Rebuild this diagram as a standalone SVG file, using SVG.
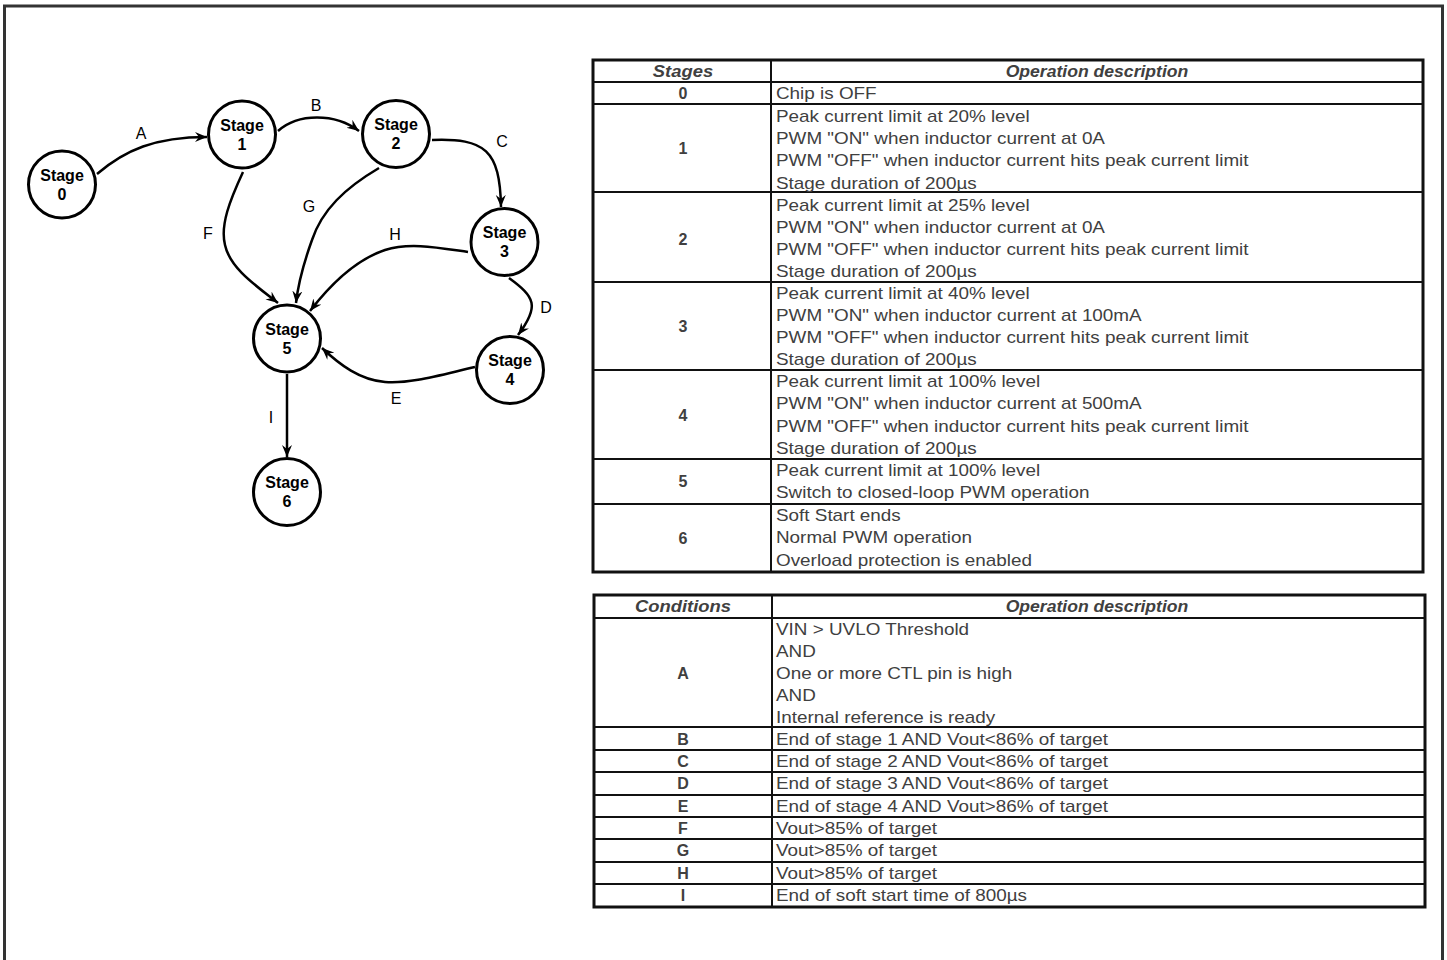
<svg xmlns="http://www.w3.org/2000/svg" width="1447" height="960" viewBox="0 0 1447 960">
<defs>
<marker id="arr" markerUnits="userSpaceOnUse" markerWidth="13" markerHeight="11" refX="12" refY="5" orient="auto">
<path d="M0,0 L12,5 L0,10 L4,5 Z" fill="#000"/>
</marker>
<style>
.node circle{fill:#fff;stroke:#000;stroke-width:3}
.node text{font-family:"Liberation Sans",Arial,sans-serif;font-weight:bold;font-size:16px;text-anchor:middle;fill:#000}
.edge{fill:none;stroke:#000;stroke-width:2.5;marker-end:url(#arr)}
.lbl{font-family:"Liberation Sans",Arial,sans-serif;font-size:16px;text-anchor:middle;fill:#000}
.tout{fill:none;stroke:#111;stroke-width:3}
.tin{stroke:#111;stroke-width:2}
.td{font-family:"Liberation Sans",Arial,sans-serif;font-size:16px;fill:#404040}
.tc{font-family:"Liberation Sans",Arial,sans-serif;font-size:16px;font-weight:bold;fill:#404040;text-anchor:middle}
.th{font-family:"Liberation Sans",Arial,sans-serif;font-size:16px;font-weight:bold;font-style:italic;fill:#404040;text-anchor:middle}
</style>
</defs>
<rect x="0" y="0" width="1447" height="960" fill="#fff"/>
<path d="M4.5,975 L4.5,6 L1442.5,6 L1442.5,975" fill="none" stroke="#333" stroke-width="3"/>

<g id="connectors">
<path class="edge" d="M97,174 C125,150 155,137 207,137"/>
<path class="edge" d="M278,131 C298,113 335,113 359,131"/>
<path class="edge" d="M432,140 C485,138 500,150 501,207"/>
<path class="edge" d="M509,278 C535,297 540,306 518,335"/>
<path class="edge" d="M475,367 C440,375 410,384 385,382 C360,380 340,365 322,348"/>
<path class="edge" d="M243,172 C230,200 220,225 225,245 C230,268 255,285 278,303"/>
<path class="edge" d="M379,168 C345,188 322,210 312,240 C303,265 298,285 296,303"/>
<path class="edge" d="M468,252 C440,248 410,242 385,250 C355,260 330,285 310,311"/>
<path class="edge" d="M287,374 L287,457"/>
<text class="lbl" x="141" y="139">A</text>
<text class="lbl" x="316" y="111">B</text>
<text class="lbl" x="502" y="147">C</text>
<text class="lbl" x="546" y="313">D</text>
<text class="lbl" x="396" y="404">E</text>
<text class="lbl" x="208" y="239">F</text>
<text class="lbl" x="309" y="212">G</text>
<text class="lbl" x="395" y="240">H</text>
<text class="lbl" x="271" y="423">I</text>
</g>

<g id="stage0" class="node"><circle cx="62" cy="184.5" r="33.5"/><text x="62" y="180.5">Stage</text><text x="62" y="199.5">0</text></g>
<g id="stage1" class="node"><circle cx="242" cy="134.5" r="33.5"/><text x="242" y="130.5">Stage</text><text x="242" y="149.5">1</text></g>
<g id="stage2" class="node"><circle cx="396" cy="134" r="33.5"/><text x="396" y="130">Stage</text><text x="396" y="149">2</text></g>
<g id="stage3" class="node"><circle cx="504.5" cy="242" r="33.5"/><text x="504.5" y="238">Stage</text><text x="504.5" y="257">3</text></g>
<g id="stage4" class="node"><circle cx="510" cy="370" r="33.5"/><text x="510" y="366">Stage</text><text x="510" y="385">4</text></g>
<g id="stage5" class="node"><circle cx="287" cy="338.5" r="33.5"/><text x="287" y="334.5">Stage</text><text x="287" y="353.5">5</text></g>
<g id="stage6" class="node"><circle cx="287" cy="492" r="33.5"/><text x="287" y="488">Stage</text><text x="287" y="507">6</text></g>

<g id="stages-table">
<rect class="tout" x="593" y="60" width="830" height="512"/>
<line class="tin" x1="771" y1="60" x2="771" y2="572"/>
<line class="tin" x1="593" y1="82" x2="1423" y2="82"/>
<line class="tin" x1="593" y1="104" x2="1423" y2="104"/>
<line class="tin" x1="593" y1="192" x2="1423" y2="192"/>
<line class="tin" x1="593" y1="282" x2="1423" y2="282"/>
<line class="tin" x1="593" y1="370" x2="1423" y2="370"/>
<line class="tin" x1="593" y1="459" x2="1423" y2="459"/>
<line class="tin" x1="593" y1="504" x2="1423" y2="504"/>
<g transform="translate(683 0) scale(1.15 1)"><text class="th" x="0" y="77">Stages</text></g>
<g transform="translate(1097 0) scale(1.1 1)"><text class="th" x="0" y="77">Operation description</text></g>
<text class="tc" x="683" y="99">0</text>
<text class="tc" x="683" y="154">1</text>
<text class="tc" x="683" y="245">2</text>
<text class="tc" x="683" y="332">3</text>
<text class="tc" x="683" y="421">4</text>
<text class="tc" x="683" y="487">5</text>
<text class="tc" x="683" y="544">6</text>
<g transform="translate(776 0) scale(1.18 1)">
<text class="td" x="0" y="99">Chip is OFF</text>
<text class="td" x="0" y="122">Peak current limit at 20% level</text>
<text class="td" x="0" y="144">PWM "ON" when inductor current at 0A</text>
<text class="td" x="0" y="166">PWM "OFF" when inductor current hits peak current limit</text>
<text class="td" x="0" y="189">Stage duration of 200µs</text>
<text class="td" x="0" y="211">Peak current limit at 25% level</text>
<text class="td" x="0" y="233">PWM "ON" when inductor current at 0A</text>
<text class="td" x="0" y="255">PWM "OFF" when inductor current hits peak current limit</text>
<text class="td" x="0" y="277">Stage duration of 200µs</text>
<text class="td" x="0" y="299">Peak current limit at 40% level</text>
<text class="td" x="0" y="321">PWM "ON" when inductor current at 100mA</text>
<text class="td" x="0" y="343">PWM "OFF" when inductor current hits peak current limit</text>
<text class="td" x="0" y="365">Stage duration of 200µs</text>
<text class="td" x="0" y="387">Peak current limit at 100% level</text>
<text class="td" x="0" y="409">PWM "ON" when inductor current at 500mA</text>
<text class="td" x="0" y="432">PWM "OFF" when inductor current hits peak current limit</text>
<text class="td" x="0" y="454">Stage duration of 200µs</text>
<text class="td" x="0" y="476">Peak current limit at 100% level</text>
<text class="td" x="0" y="498">Switch to closed-loop PWM operation</text>
<text class="td" x="0" y="521">Soft Start ends</text>
<text class="td" x="0" y="543">Normal PWM operation</text>
<text class="td" x="0" y="566">Overload protection is enabled</text>
</g>
</g>

<g id="conditions-table">
<rect class="tout" x="594" y="595" width="831" height="312"/>
<line class="tin" x1="772" y1="595" x2="772" y2="907"/>
<line class="tin" x1="594" y1="618" x2="1425" y2="618"/>
<line class="tin" x1="594" y1="727" x2="1425" y2="727"/>
<line class="tin" x1="594" y1="750" x2="1425" y2="750"/>
<line class="tin" x1="594" y1="772" x2="1425" y2="772"/>
<line class="tin" x1="594" y1="795" x2="1425" y2="795"/>
<line class="tin" x1="594" y1="817" x2="1425" y2="817"/>
<line class="tin" x1="594" y1="839" x2="1425" y2="839"/>
<line class="tin" x1="594" y1="862" x2="1425" y2="862"/>
<line class="tin" x1="594" y1="884" x2="1425" y2="884"/>
<g transform="translate(683 0) scale(1.15 1)"><text class="th" x="0" y="612">Conditions</text></g>
<g transform="translate(1097 0) scale(1.1 1)"><text class="th" x="0" y="612">Operation description</text></g>
<text class="tc" x="683" y="679">A</text>
<text class="tc" x="683" y="745">B</text>
<text class="tc" x="683" y="767">C</text>
<text class="tc" x="683" y="789">D</text>
<text class="tc" x="683" y="812">E</text>
<text class="tc" x="683" y="834">F</text>
<text class="tc" x="683" y="856">G</text>
<text class="tc" x="683" y="879">H</text>
<text class="tc" x="683" y="901">I</text>
<g transform="translate(776 0) scale(1.18 1)">
<text class="td" x="0" y="635">VIN &gt; UVLO Threshold</text>
<text class="td" x="0" y="657">AND</text>
<text class="td" x="0" y="679">One or more CTL pin is high</text>
<text class="td" x="0" y="701">AND</text>
<text class="td" x="0" y="723">Internal reference is ready</text>
<text class="td" x="0" y="745">End of stage 1 AND Vout&lt;86% of target</text>
<text class="td" x="0" y="767">End of stage 2 AND Vout&lt;86% of target</text>
<text class="td" x="0" y="789">End of stage 3 AND Vout&lt;86% of target</text>
<text class="td" x="0" y="812">End of stage 4 AND Vout&gt;86% of target</text>
<text class="td" x="0" y="834">Vout&gt;85% of target</text>
<text class="td" x="0" y="856">Vout&gt;85% of target</text>
<text class="td" x="0" y="879">Vout&gt;85% of target</text>
<text class="td" x="0" y="901">End of soft start time of 800µs</text>
</g>
</g>
</svg>
